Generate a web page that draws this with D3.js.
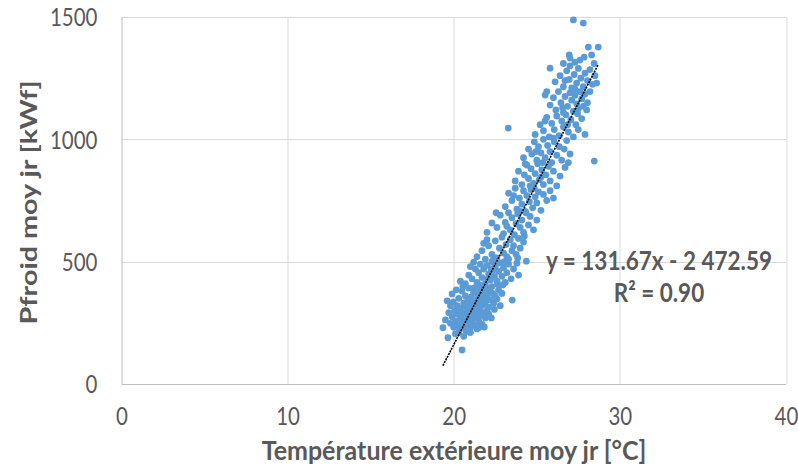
<!DOCTYPE html>
<html>
<head>
<meta charset="utf-8">
<title>Pfroid vs température</title>
<style>
  body { margin: 0; background: #fff; }
  text { font-family: Lato, "Open Sans", sans-serif; fill: #595959; }
  .grid line { stroke: #d9d9d9; stroke-width: 1; }
  .axis path, .axis line { stroke: #bfbfbf; }
  .tick text { font-size: 20.5px; }
  .title { font-size: 25px; font-weight: bold; }
  .ytitle { font-size: 23px; font-weight: bold; }
  .eq { font-size: 22.5px; font-weight: bold; }
</style>
<script src="https://cdn.jsdelivr.net/npm/d3@7"></script>
</head>
<body>
<script>
// mean daily outdoor temperature [°C] and mean daily cooling power [kWf]
var points = [
  [19.35,230],[19.65,189],[20.5,139],[20.1,205],[20.6,195],[21.0,210],
  [19.5,262],[19.8,248],[19.9,275],[20.0,232],[20.1,258],[20.2,240],[20.25,285],[20.35,222],[20.4,268],[20.5,250],
  [20.55,292],[20.6,235],[20.7,262],[20.75,215],[20.8,280],[20.9,245],[20.95,298],[21.0,228],[21.05,265],[21.1,250],
  [21.2,285],[21.25,240],[21.3,270],[21.4,225],[21.45,295],[21.5,258],[21.6,280],[21.7,245],[21.8,290],[21.9,270],
  [22.0,300],[22.26,270],[19.7,292],[20.05,300],[20.3,210],[21.84,233],[20.65,278],[21.15,300],[21.55,232],[22.1,285],
  [19.6,340],[19.9,368],[19.97,336],[20.2,320],[20.3,350],[20.4,310],[20.5,380],[20.6,330],[20.7,360],[20.75,315],
  [20.85,345],[20.9,392],[21.0,325],[21.05,355],[21.1,305],[21.2,375],[21.25,340],[21.3,395],[21.35,318],[21.45,360],
  [21.5,335],[21.55,385],[21.6,310],[21.7,350],[21.75,372],[21.8,325],[21.9,395],[21.95,340],[22.0,365],[22.1,315],
  [22.15,380],[22.2,345],[22.3,398],[22.4,330],[22.5,360],[22.6,347],[22.7,385],[22.8,320],[23.52,343],[20.15,385],
  [20.55,398],[21.15,390],[21.65,398],[22.05,390],[22.35,370],[22.9,370],[19.8,320],[20.8,302],[21.4,308],[22.45,305],
  [20.4,420],[20.7,410],[20.9,445],[21.1,430],[21.3,470],[21.4,415],[21.5,455],[21.6,490],[21.7,435],[21.8,470],
  [21.9,410],[22.0,485],[22.1,450],[22.2,425],[22.3,500],[22.35,465],[22.45,440],[22.5,480],[22.6,420],[22.7,460],
  [22.8,495],[22.9,440],[23.0,475],[23.1,415],[23.2,455],[23.3,490],[23.45,430],[23.8,494],[23.6,470],[21.0,480],
  [21.2,498],[22.05,430],[22.65,408],[23.05,500],[23.9,445],[21.55,405],[22.95,405],[22.25,470],
  [21.4,520],[21.7,545],[21.9,510],[22.1,565],[22.3,530],[22.5,585],[22.6,515],[22.75,555],[22.9,600],[23.0,535],
  [23.15,570],[23.3,510],[23.4,590],[23.5,545],[23.6,565],[23.75,530],[23.9,595],[24.0,555],[24.37,502],[22.0,590],
  [24.2,580],[22.4,510],[23.2,520],[23.85,515],[21.8,575],
  [22.0,620],[22.3,658],[22.6,640],[22.8,690],[23.0,615],[23.1,660],[23.3,700],[23.4,630],[23.5,680],[23.65,610],
  [23.75,655],[23.85,695],[24.0,640],[24.1,670],[24.2,620],[24.35,700],[24.5,650],[24.6,685],[24.8,630],[25.0,670],
  [23.2,645],[24.25,605],[22.55,700],
  [23.1,725],[23.3,780],[23.5,750],[23.7,800],[23.8,715],[23.95,760],[24.1,735],[24.2,790],[24.3,705],[24.4,770],
  [24.55,745],[24.65,795],[24.75,720],[24.9,765],[25.0,740],[25.1,785],[25.25,710],[25.4,775],[25.6,750],[25.8,790],
  [26.0,760],[24.0,705],[24.85,800],[23.6,770],
  [23.7,830],[23.9,870],[24.1,815],[24.25,855],[24.4,895],[24.5,840],[24.65,880],[24.8,820],[24.9,860],[25.05,900],
  [25.15,835],[25.3,875],[25.4,815],[25.55,855],[25.7,890],[25.8,830],[26.0,870],[26.2,810],[26.4,850],[25.25,845],
  [24.6,810],[26.7,885],[24.3,900],
  [24.2,925],[24.5,960],[24.7,940],[24.85,990],[25.0,915],[25.1,970],[25.25,945],[25.4,1000],[25.5,925],[25.65,975],
  [25.8,950],[25.9,905],[26.05,990],[26.2,935],[26.35,970],[26.5,915],[26.65,960],[26.8,995],[27.0,940],[28.46,911],
  [26.9,905],[25.35,905],[24.95,950],
  [23.28,1046],[24.9,1020],[25.2,1060],[25.4,1035],[25.6,1090],[25.75,1010],[25.9,1065],[26.05,1040],[26.2,1095],[26.35,1015],
  [26.5,1075],[26.6,1050],[26.75,1100],[26.9,1030],[27.05,1080],[27.2,1010],[27.35,1060],[27.5,1040],[27.7,1085],[27.9,1020],
  [26.0,1005],[26.85,1060],[25.5,1075],
  [25.5,1181],[25.8,1140],[26.0,1170],[26.15,1120],[26.3,1195],[26.45,1150],[26.6,1110],[26.7,1175],[26.85,1135],[27.0,1190],
  [27.1,1160],[27.2,1115],[27.3,1180],[27.4,1145],[27.5,1125],[27.6,1195],[27.7,1165],[27.8,1135],[27.9,1185],[28.05,1150],
  [28.2,1195],[26.55,1130],[27.15,1200],[27.45,1105],[28.0,1120],[25.6,1195],
  [25.8,1291],[26.1,1235],[26.4,1260],[26.6,1215],[26.8,1280],[26.95,1245],[27.1,1210],[27.25,1265],[27.4,1230],[27.5,1290],
  [27.65,1250],[27.8,1215],[27.9,1270],[28.05,1240],[28.2,1285],[28.35,1225],[28.5,1260],[27.3,1205],[27.0,1300],[26.7,1240],
  [28.6,1230],
  [27.2,1488],[27.8,1475],[28.1,1377],[28.7,1377],[26.95,1345],[27.0,1332],[27.85,1336],[27.6,1324],[28.3,1345],[28.45,1310],
  [27.3,1315],[26.6,1310]
];
var xTicks = [0, 10, 20, 30, 40];
var yTicks = [0, 500, 1000, 1500];
var slope = 131.67, intercept = -2472.59;
var eqLabel = "y = 131.67x - 2 472.59";
var r2Label = "R\u00B2 = 0.90";

var W = 798, H = 468;
var stretch = 1.18; // text in the original is drawn taller than wide
var margin = {top: 17, right: 12, bottom: 84, left: 121.5};
var width = W - margin.left - margin.right,
    height = H - margin.top - margin.bottom;

var svg = d3.select("body").append("svg")
    .attr("width", W)
    .attr("height", H);

var g = svg.append("g")
    .attr("transform", "translate(" + margin.left + "," + margin.top + ")");

var x = d3.scaleLinear().domain([0, 40]).range([0, width]);
var y = d3.scaleLinear().domain([0, 1500]).range([height, 0]);

// grid
g.append("g").attr("class", "grid")
  .selectAll("line").data(yTicks.slice(1)).enter().append("line")
    .attr("x1", 0).attr("x2", width)
    .attr("y1", function(d) { return Math.round(y(d)) + 0.5; })
    .attr("y2", function(d) { return Math.round(y(d)) + 0.5; });
g.append("g").attr("class", "grid")
  .selectAll("line").data(xTicks.slice(1)).enter().append("line")
    .attr("y1", 0).attr("y2", height)
    .attr("x1", function(d) { return Math.round(x(d)) + 0.5; })
    .attr("x2", function(d) { return Math.round(x(d)) + 0.5; });

// axes
var xAxis = g.append("g")
    .attr("class", "axis")
    .attr("transform", "translate(0," + height + ")")
    .call(d3.axisBottom(x).tickValues(xTicks).tickSize(0).tickFormat(d3.format("d")));
var yAxis = g.append("g")
    .attr("class", "axis")
    .call(d3.axisLeft(y).tickValues(yTicks).tickSize(0).tickFormat(d3.format("d")));
xAxis.select(".domain").attr("d", "M0,0.5H" + width);
yAxis.select(".domain").attr("d", "M0.5,0V" + height);

xAxis.selectAll(".tick text")
    .attr("y", null).attr("dy", "0.36em")
    .attr("transform", "translate(0,32) scale(1," + stretch + ")");
yAxis.selectAll(".tick text")
    .attr("x", null).attr("dy", "0.36em")
    .attr("transform", "translate(-24,0) scale(1," + stretch + ")");

// points
g.selectAll("circle").data(points).enter().append("circle")
    .attr("cx", function(d) { return x(d[0]); })
    .attr("cy", function(d) { return y(d[1]); })
    .attr("r", 3.4)
    .style("fill", "#5b9bd5");

// linear trend
var xr = d3.extent(points, function(d) { return d[0]; });
g.append("line")
    .attr("x1", x(xr[0])).attr("y1", y(slope * xr[0] + intercept))
    .attr("x2", x(xr[1])).attr("y2", y(slope * xr[1] + intercept))
    .attr("stroke", "#000")
    .attr("stroke-width", 1.6)
    .attr("stroke-dasharray", "2,1");

// equation
g.append("text").attr("class", "eq")
    .attr("text-anchor", "middle")
    .attr("transform", "translate(" + (659 - margin.left) + "," + (270 - margin.top) + ") scale(1," + stretch + ")")
    .text(eqLabel);
g.append("text").attr("class", "eq")
    .attr("text-anchor", "middle")
    .attr("transform", "translate(" + (659 - margin.left) + "," + (302 - margin.top) + ") scale(1," + stretch + ")")
    .text(r2Label);

// axis titles
svg.append("text").attr("class", "ytitle")
    .attr("text-anchor", "middle")
    .attr("transform", "translate(37," + (margin.top + height / 2 + 2) + ") rotate(-90) scale(1.25,1)")
    .text("Pfroid moy jr [kWf]");
svg.append("text").attr("class", "title")
    .attr("text-anchor", "middle")
    .attr("transform", "translate(454,460) scale(1,1.1)")
    .text("Température extérieure moy jr [°C]");
</script>
</body>
</html>
